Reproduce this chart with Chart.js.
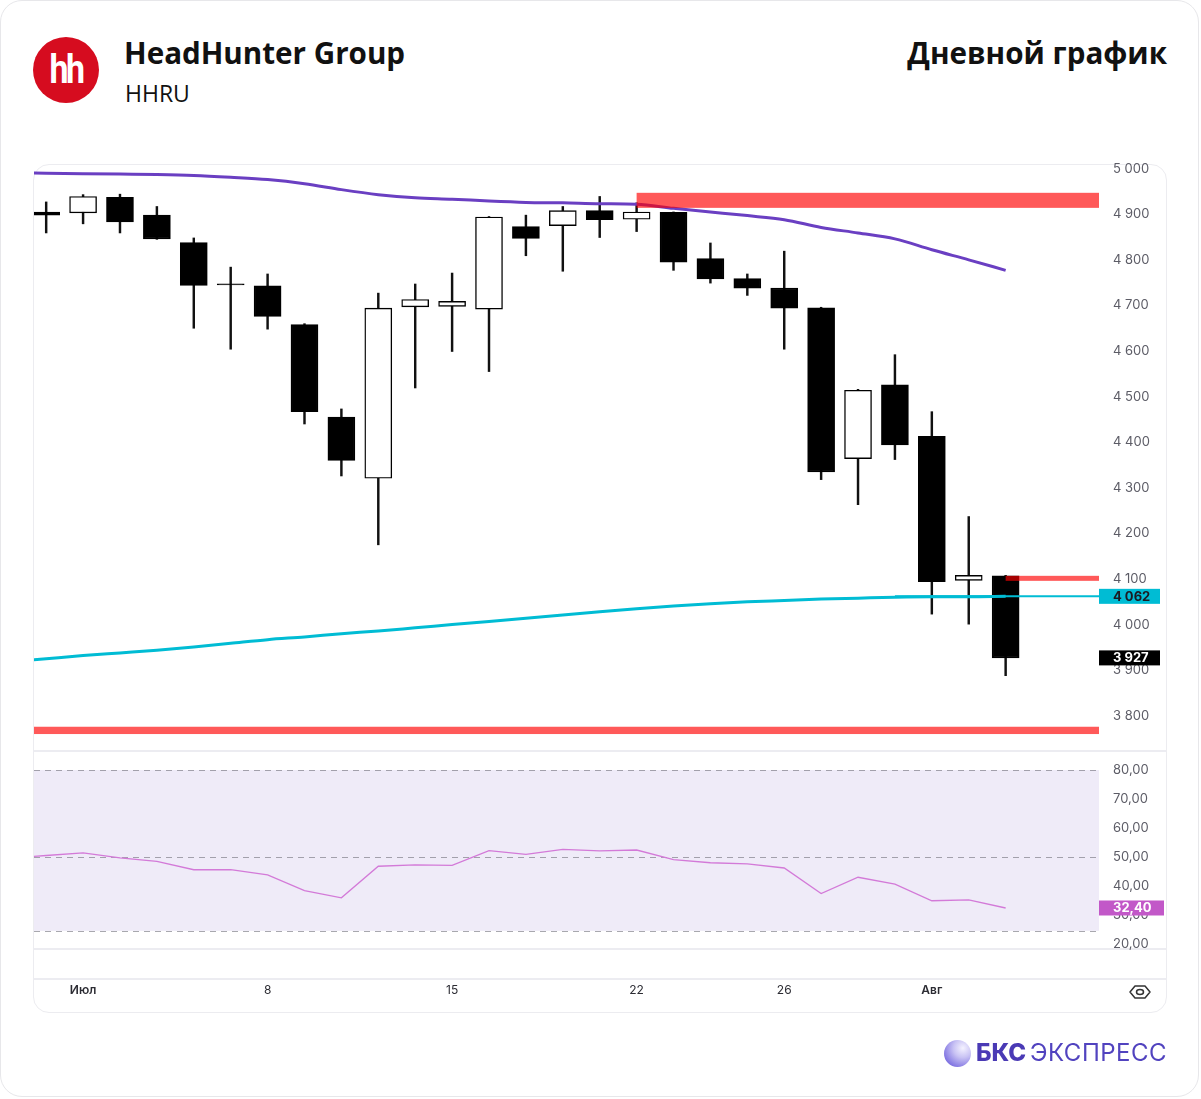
<!DOCTYPE html>
<html lang="ru">
<head>
<meta charset="utf-8">
<script src="https://cdn.jsdelivr.net/npm/chart.js@4.4.1/dist/chart.umd.min.js"></script>
<style>
  html, body { margin: 0; padding: 0; background: #fff; }
  body { width: 1201px; height: 1099px; position: relative; overflow: hidden; font-family: "Open Sans", "Noto Sans", sans-serif; }
  .card { position: absolute; left: 0; top: 0; width: 1197px; height: 1095px; border: 1.5px solid #e7e7ea; border-radius: 22px; }
  .logo { position: absolute; left: 33px; top: 37px; width: 66px; height: 66px; border-radius: 50%; background: #d60c1f; }
  .logo span { position: absolute; left: 0; width: 66px; top: 9px; text-align: center; color: #fff; font: bold 40px "Roboto", sans-serif; letter-spacing: -3px; transform: scaleX(0.85); }
  .title { position: absolute; left: 124px; top: 33px; font-size: 29.6px; font-weight: 700; color: #111; line-height: 40px; }
  .ticker { position: absolute; left: 125px; top: 77px; font-size: 23px; color: #111; line-height: 32px; }
  .period { position: absolute; right: 34px; top: 33px; font-size: 29.6px; font-weight: 700; color: #111; line-height: 40px; }
  .frame { position: absolute; left: 33px; top: 164px; width: 1132px; height: 847px; border: 1.5px solid #ececf0; border-radius: 16px; }
  .sep { position: absolute; left: 34px; width: 1132px; height: 1.5px; background: #ececf1; }
  canvas { position: absolute; }
  #price { left: 34px; top: 155px; }
  #rsi { left: 34px; top: 750px; }
  .eye { position: absolute; left: 1128px; top: 984px; }
  .brand { position: absolute; left: 944px; top: 1038px; height: 30px; font-family: "Inter", sans-serif; font-size: 24px; line-height: 30px; color: #5143bf; }
  .brand i { position: absolute; left: 0; top: 2px; width: 27px; height: 27px; border-radius: 50%; background: radial-gradient(circle at 70% 30%, #f4f2ff 0%, #c9c3f4 35%, #7a6de0 80%, #5a4bcf 100%); }
  .brand b { position: absolute; left: 32px; top: 0; font-weight: 800; color: #4a3ab5; }
  .brand em { position: absolute; left: 86px; top: 0; font-style: normal; font-weight: 400; letter-spacing: 0.5px; }
</style>
</head>
<body>
<div class="card"></div>
<div class="logo"><span>hh</span></div>
<div class="title">HeadHunter Group</div>
<div class="ticker">HHRU</div>
<div class="period">Дневной график</div>
<div class="frame"></div>
<div class="sep" style="top:750px"></div>
<div class="sep" style="top:948px"></div>
<div class="sep" style="top:978px"></div>
<canvas id="price" width="1132" height="595"></canvas>
<canvas id="rsi" width="1132" height="262"></canvas>
<svg class="eye" width="24" height="16" viewBox="0 0 24 16">
  <path d="M2 8 L7 2 H17 L22 8 L17 14 H7 Z" fill="none" stroke="#333" stroke-width="1.5" stroke-linejoin="round"/>
  <ellipse cx="12" cy="8" rx="3.5" ry="2.5" fill="none" stroke="#333" stroke-width="1.5"/>
</svg>
<div class="brand"><i></i><b>БКС</b><em>ЭКСПРЕСС</em></div>

<script>
//---donnees---//

var dates = ['28', 'Июл', '2', '3', '4', '5', '8', '9', '10', '11', '12', '15', '16', '17', '18', '19', '22', '23', '24', '25', '26', '29', '30', '31', 'Авг', '2', '5'];
var shownTicks = [1, 6, 11, 16, 20, 24];

var opens  = [4905, 4903, 4937, 4898, 4838, 4746, 4743, 4658, 4455, 4321, 4697, 4698, 4692, 4873, 4875, 4908, 4889, 4904, 4803, 4759, 4738, 4695, 4364, 4526, 4413, 4097, 4107];
var highs  = [4927, 4943, 4944, 4917, 4848, 4784, 4769, 4660, 4473, 4727, 4747, 4771, 4895, 4898, 4917, 4939, 4925, 4905, 4837, 4769, 4819, 4696, 4516, 4592, 4467, 4237, 4108];
var lows   = [4859, 4879, 4859, 4845, 4650, 4604, 4648, 4440, 4326, 4175, 4519, 4599, 4555, 4809, 4775, 4849, 4862, 4777, 4749, 4722, 4604, 4318, 4263, 4362, 4023, 4001, 3888];
var closes = [4898, 4939, 4883, 4846, 4744, 4745, 4676, 4467, 4360, 4694, 4713, 4709, 4894, 4847, 4908, 4888, 4905, 4795, 4758, 4738, 4694, 4335, 4514, 4394, 4094, 4108, 3927];

// indicator series start one session earlier (27 June)
var maStart = -1;
var ma50  = [4991, 4990, 4989, 4988, 4987, 4985, 4981, 4976, 4967, 4954, 4943, 4936, 4933, 4929, 4926, 4925, 4923, 4922, 4913, 4905, 4897, 4888, 4871, 4859, 4846, 4822, 4800, 4777];
var ma200 = [3918, 3925, 3932, 3938, 3944, 3951, 3959, 3967, 3973, 3980, 3986, 3993, 4000, 4007, 4014, 4021, 4028, 4035, 4041, 4046, 4050, 4053, 4056, 4058, 4060, 4061, 4061, 4062];
var rsi   = [49.7, 50.5, 51.4, 49.7, 48.5, 45.6, 45.6, 43.8, 38.4, 35.9, 46.8, 47.3, 47.1, 52.2, 50.9, 52.6, 52.1, 52.4, 49.1, 48.0, 47.6, 46.2, 37.4, 43.0, 40.6, 34.9, 35.2, 32.4];

var ma200Level = 4062;
var levelFrom = 23;

// red zones: start session (null = whole width), low, high
var zoneFrom = [16, 26, null];
var zoneLow  = [4914, 4096, 3760];
var zoneHigh = [4947, 4107, 3776];

var priceTicks = [3800, 3900, 4000, 4100, 4200, 4300, 4400, 4500, 4600, 4700, 4800, 4900, 5000];
var rsiTicks = [20, 30, 40, 50, 60, 70, 80];
var rsiLevels = [80, 50, 24.5];

var xMin = -0.33, xMax = 28.53;

function fmtPrice(v) {
    return String(v).replace(/\B(?=(\d{3})+(?!\d))/g, ' ');
}
function fmtRsi(v) {
    return v.toFixed(2).replace('.', ',');
}

// no extra room for the labels: the plot fills its box
function noPadding(s) {
    s.paddingTop = 0;
    s.paddingBottom = 0;
    s.paddingLeft = 0;
    s.paddingRight = 0;
}

var tickFont = {family: 'Inter', size: 13};
var axisColor = '#5c5c66';

//---graphique-prix---//

var zonePlugin = {
  id: 'zones',
  afterDatasetsDraw: function(chart) {
    var ctx = chart.ctx, xs = chart.scales.x, ys = chart.scales.y, area = chart.chartArea;
    ctx.save();
    ctx.beginPath();
    ctx.rect(area.left, area.top, area.width, area.height);
    ctx.clip();
    ctx.fillStyle = 'rgba(255, 0, 0, 0.65)';
    zoneFrom.forEach(function(f, i) {
      var x0 = f === null ? area.left : xs.getPixelForValue(f);
      var y0 = ys.getPixelForValue(zoneHigh[i]);
      var y1 = ys.getPixelForValue(zoneLow[i]);
      ctx.fillRect(x0, y0, area.right - x0, y1 - y0);
    });
    ctx.restore();
  },
  afterDraw: function(chart) {
    var ctx = chart.ctx, ys = chart.scales.y, area = chart.chartArea;
    var tags = [[ma200Level, '#00bcd4', '#1b1b22'], [closes[closes.length - 1], '#000', '#fff']];
    ctx.save();
    ctx.font = 'bold 13px Inter';
    ctx.textBaseline = 'middle';
    tags.forEach(function(t) {
      var y = ys.getPixelForValue(t[0]);
      ctx.fillStyle = t[1];
      ctx.fillRect(area.right, y - 7.5, 61, 15);
      ctx.fillStyle = t[2];
      ctx.fillText(fmtPrice(t[0]), area.right + 14, y + 0.5);
    });
    ctx.restore();
  }
};

var bodyColors = opens.map((o, i) => closes[i] >= o ? '#ffffff' : '#000000');

var data = {
  datasets: [{
    type: 'bar',
    label: 'wicks',
    data: lows.map((l, i) => ({x: i, y: [l, highs[i]]})),
    backgroundColor: '#111',
    borderWidth: 0,
    barThickness: 1.8,
    grouped: false,
    order: 4
  }, {
    type: 'bar',
    label: 'bodies',
    data: opens.map((o, i) => ({x: i, y: [o, closes[i]]})),
    backgroundColor: bodyColors,
    borderColor: '#000',
    borderWidth: 1.4,
    borderSkipped: false,
    barThickness: 27,
    minBarLength: 1,
    grouped: false,
    order: 3
  }, {
    type: 'line',
    label: 'MA50',
    data: ma50.map((v, i) => ({x: i + maStart, y: v})),
    borderColor: '#6a3fc2',
    borderWidth: 3,
    pointRadius: 0,
    cubicInterpolationMode: 'monotone',
    order: 2
  }, {
    type: 'line',
    label: 'MA200',
    data: ma200.map((v, i) => ({x: i + maStart, y: v})),
    borderColor: '#00bcd4',
    borderWidth: 3,
    pointRadius: 0,
    cubicInterpolationMode: 'monotone',
    order: 1
  }, {
    type: 'line',
    label: 'niveau',
    data: [{x: levelFrom, y: ma200Level}, {x: xMax, y: ma200Level}],
    borderColor: '#00bcd4',
    borderWidth: 2,
    pointRadius: 0,
    order: 1
  }]
};

var config = {
  type: 'bar',
  data: data,
  options: {
    responsive: false,
    animation: false,
    layout: {padding: {top: 10}},
    plugins: {
      legend: {display: false},
      tooltip: {enabled: false}
    },
    scales: {
      x: {
        type: 'linear', min: xMin, max: xMax, offset: false, display: false
      },
      y: {
        position: 'right', min: 3725, max: 5008,
        grid: {display: false, drawTicks: false},
        border: {display: false},
        afterBuildTicks: s => { s.ticks = priceTicks.map(v => ({value: v})); },
        afterFit: s => { s.width = 67; noPadding(s); },
        ticks: {padding: 14, color: axisColor, font: tickFont, callback: v => fmtPrice(v)}
      }
    }
  },
  plugins: [zonePlugin]
};

var pricectx = document.getElementById('price').getContext('2d');
var pricechart = new Chart(pricectx, config);

//---graphique-rsi---//

var rsiPlugin = {
  id: 'rsiband',
  beforeDatasetsDraw: function(chart) {
    var ctx = chart.ctx, ys = chart.scales.y, area = chart.chartArea;
    var yTop = ys.getPixelForValue(rsiLevels[0]);
    var yBot = ys.getPixelForValue(rsiLevels[2]);
    ctx.save();
    ctx.fillStyle = '#efebf8';
    ctx.fillRect(area.left, yTop, area.width, yBot - yTop);
    ctx.strokeStyle = 'rgba(110, 110, 120, 0.6)';
    ctx.lineWidth = 1;
    ctx.setLineDash([6, 5]);
    rsiLevels.forEach(function(l) {
      var y = Math.round(ys.getPixelForValue(l)) + 0.5;
      ctx.beginPath();
      ctx.moveTo(area.left, y);
      ctx.lineTo(area.right, y);
      ctx.stroke();
    });
    ctx.restore();
  },
  afterDraw: function(chart) {
    var ctx = chart.ctx, ys = chart.scales.y, area = chart.chartArea;
    var last = rsi[rsi.length - 1];
    var y = ys.getPixelForValue(last);
    ctx.save();
    ctx.fillStyle = '#c258c8';
    ctx.fillRect(area.right, y - 7.5, 65, 15);
    ctx.fillStyle = '#fff';
    ctx.font = 'bold 13px Inter';
    ctx.textBaseline = 'middle';
    ctx.fillText(fmtRsi(last), area.right + 14, y + 0.5);
    ctx.restore();
  }
};

var data = {
  datasets: [{
    label: 'RSI',
    data: rsi.map((v, i) => ({x: i + maStart, y: v})),
    borderColor: '#d37ad8',
    borderWidth: 1.3,
    pointRadius: 0,
    tension: 0
  }]
};

var config = {
  type: 'line',
  data: data,
  options: {
    responsive: false,
    animation: false,
    layout: {padding: 0},
    plugins: {
      legend: {display: false},
      tooltip: {enabled: false}
    },
    scales: {
      x: {
        type: 'linear', min: xMin, max: xMax,
        grid: {display: false, drawTicks: false},
        border: {display: false},
        afterBuildTicks: s => { s.ticks = shownTicks.map(v => ({value: v})); },
        afterFit: s => { s.height = 64; noPadding(s); },
        ticks: {
          autoSkip: false, maxRotation: 0, padding: 35, color: '#2c2c33',
          font: function(c) {
            var lab = c.tick ? dates[c.tick.value] : '';
            return {family: 'Inter', size: 12, weight: isNaN(lab) ? '600' : '400'};
          },
          callback: v => dates[v]
        }
      },
      y: {
        position: 'right', min: 18.6, max: 86.9,
        grid: {display: false, drawTicks: false},
        border: {display: false},
        afterBuildTicks: s => { s.ticks = rsiTicks.map(v => ({value: v})); },
        afterFit: s => { s.width = 67; noPadding(s); },
        ticks: {padding: 14, color: axisColor, font: tickFont, callback: v => fmtRsi(v)}
      }
    }
  },
  plugins: [rsiPlugin]
};

var rsictx = document.getElementById('rsi').getContext('2d');
var rsichart = new Chart(rsictx, config);
</script>
</body>
</html>
